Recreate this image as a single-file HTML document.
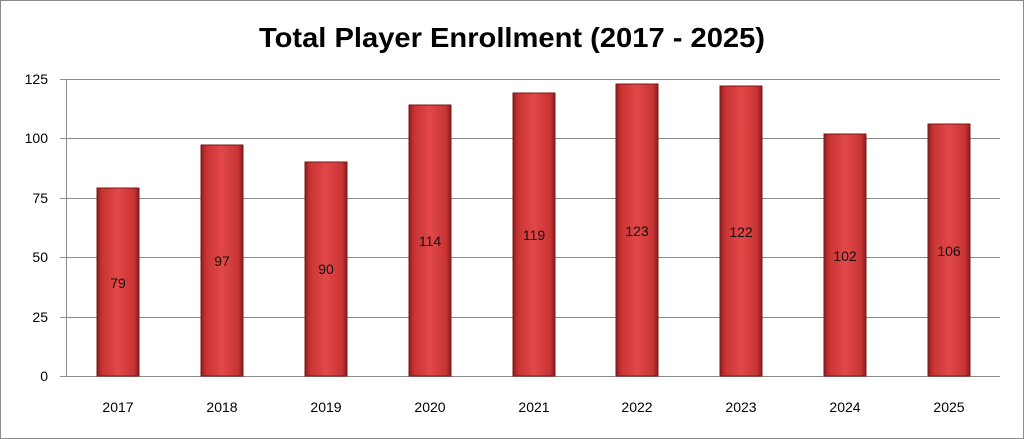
<!DOCTYPE html>
<html><head><style>body{margin:0;background:#fff}svg{display:block}</style></head>
<body>
<svg width="1024" height="439" xmlns="http://www.w3.org/2000/svg" font-family="Liberation Sans, sans-serif">
<defs>
<linearGradient id="g" x1="0" x2="1" y1="0" y2="0">
<stop offset="0" stop-color="#8e1c1c"/>
<stop offset="0.12" stop-color="#c83434"/>
<stop offset="0.5" stop-color="#e24848"/>
<stop offset="0.88" stop-color="#c83434"/>
<stop offset="1" stop-color="#8e1c1c"/>
</linearGradient>
</defs>
<rect x="0.5" y="0.5" width="1023" height="438" fill="#fff" stroke="#8c8c8c"/>
<text x="512" y="47" text-anchor="middle" font-size="28" font-weight="bold" fill="#000" textLength="506" lengthAdjust="spacingAndGlyphs">Total Player Enrollment (2017 - 2025)</text>
<g stroke="#8c8c8c" stroke-width="1">
<line x1="60" x2="1000" y1="79.5" y2="79.5"/>
<line x1="60" x2="1000" y1="138.5" y2="138.5"/>
<line x1="60" x2="1000" y1="198.5" y2="198.5"/>
<line x1="60" x2="1000" y1="257.5" y2="257.5"/>
<line x1="60" x2="1000" y1="317.5" y2="317.5"/>
<line x1="60" x2="1000" y1="376.5" y2="376.5"/>
<line x1="66.5" x2="66.5" y1="79" y2="377"/>
</g>
<g font-size="14" fill="#000" text-anchor="end">
<text x="48" y="84">125</text><text x="48" y="143">100</text><text x="48" y="203">75</text>
<text x="48" y="262">50</text><text x="48" y="322">25</text><text x="48" y="381">0</text>
</g>
<g fill="url(#g)" stroke="#7a1818" stroke-width="1">
<rect x="97" y="188" width="42" height="188"/>
<rect x="201" y="145" width="42" height="231"/>
<rect x="305" y="162" width="42" height="214"/>
<rect x="409" y="105" width="42" height="271"/>
<rect x="513" y="93" width="42" height="283"/>
<rect x="616" y="84" width="42" height="292"/>
<rect x="720" y="86" width="42" height="290"/>
<rect x="824" y="134" width="42" height="242"/>
<rect x="928" y="124" width="42" height="252"/>
</g>
<g font-size="14" fill="#111" text-anchor="middle">
<text x="118" y="288">79</text><text x="222" y="266">97</text><text x="326" y="274">90</text>
<text x="430" y="246">114</text><text x="534" y="240">119</text><text x="637" y="236">123</text>
<text x="741" y="237">122</text><text x="845" y="261">102</text><text x="949" y="256">106</text>
</g>
<g font-size="14" fill="#000" text-anchor="middle">
<text x="118" y="412">2017</text><text x="222" y="412">2018</text><text x="326" y="412">2019</text>
<text x="430" y="412">2020</text><text x="534" y="412">2021</text><text x="637" y="412">2022</text>
<text x="741" y="412">2023</text><text x="845" y="412">2024</text><text x="949" y="412">2025</text>
</g>
</svg>
</body></html>
